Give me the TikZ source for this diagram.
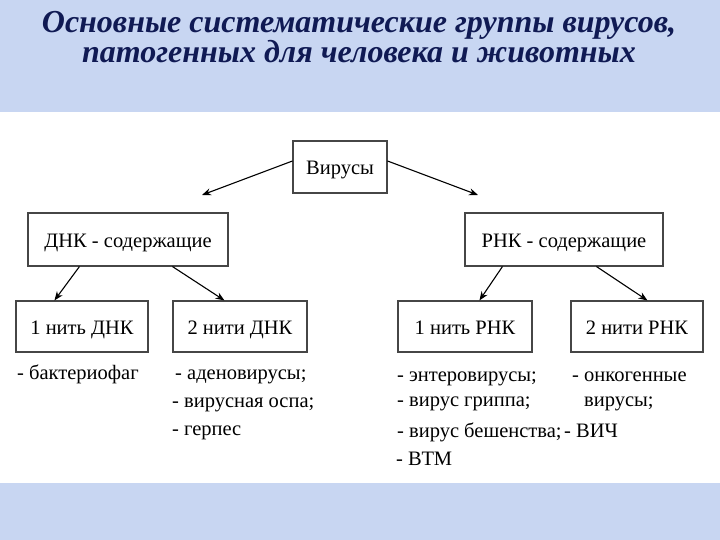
\documentclass[tikz,border=0pt]{standalone}
\usepackage{fontspec}
\setmainfont{Liberation Serif}
\usetikzlibrary{positioning, arrows.meta}
\usetikzlibrary{backgrounds}

\definecolor{bgblue}{RGB}{200,214,242}
\definecolor{titleblue}{RGB}{16,26,84}
\definecolor{boxgray}{RGB}{70,70,70}

\tikzset{
	groupbox/.style={draw=boxgray, line width=1.1pt, fill=white, font=\fontsize{20.5}{22}\selectfont, inner sep=0pt, text height=18pt, text depth=2pt},
	listitem/.style={anchor=base west, inner sep=0pt, font=\fontsize{20.5}{22}\selectfont},
	titleline/.style={anchor=base, inner sep=0pt, text=titleblue, font=\fontsize{32}{34}\selectfont\bfseries\itshape},
	arr/.style={-{Stealth[length=9pt,width=7pt]}, line width=1.1pt}
}

\begin{document}
\begin{tikzpicture}[x=1pt,y=-1pt]
				\fill[bgblue] (0,0) rectangle (720,540);
				\fill[white] (0,112) rectangle (720,483);
				\useasboundingbox (0,0) rectangle (720,540);
				\node [titleline] (T1) at (359,33) {Основные систематические группы вирусов,};
				\node [titleline] (T2) at (359,63) {патогенных для человека и животных};
				% boxes
				\node [groupbox, minimum width=94pt, minimum height=52pt] (vir) at (340,167) {Вирусы};
				\node [groupbox, minimum width=200pt, minimum height=53pt] (dna) at (128,239.5) {ДНК - содержащие};
				\node [groupbox, minimum width=198pt, minimum height=53pt] (rna) at (564,239.5) {РНК - содержащие};
				\node [groupbox, minimum width=132pt, minimum height=51pt] (dna1) at (82,326.5) {1 нить ДНК};
				\node [groupbox, minimum width=134pt, minimum height=51pt] (dna2) at (240,326.5) {2 нити ДНК};
				\node [groupbox, minimum width=134pt, minimum height=51pt] (rna1) at (465,326.5) {1 нить РНК};
				\node [groupbox, minimum width=132pt, minimum height=51pt] (rna2) at (637,326.5) {2 нити РНК};
				\coordinate (virL) at (202,195);
				\coordinate (virR) at (478,195);
				\draw [arr] ([yshift=6pt]vir.west) -- (virL);
				\draw [arr] ([yshift=6pt]vir.east) -- (virR);
				\draw [arr] ([xshift=52pt]dna.south west) -- ([xshift=39pt]dna1.north west);
				\draw [arr] ([xshift=145pt]dna.south west) -- ([xshift=52pt]dna2.north west);
				\draw [arr] ([xshift=38pt]rna.south west) -- ([xshift=82pt]rna1.north west);
				\draw [arr] ([xshift=132pt]rna.south west) -- ([xshift=77pt]rna2.north west);
				% lists
				\node [listitem] (d1a) at (17,379) {- бактериофаг};
				\node [listitem] (d2a) at (175,379) {- аденовирусы;};
				\node [listitem] (d2b) at (172,407) {- вирусная оспа;};
				\node [listitem] (d2c) at (172,435) {- герпес};
				\node [listitem] (r1a) at (397,381) {- энтеровирусы;};
				\node [listitem] (r1b) at (397,406) {- вирус гриппа;};
				\node [listitem] (r1c) at (397,437) {- вирус бешенства;};
				\node [listitem] (r1d) at (396,465) {- ВТМ};
				\node [listitem] (r2a) at (572,381) {- онкогенные};
				\node [listitem] (r2b) at (584,406) {вирусы;};
				\node [listitem] (r2c) at (564,437) {- ВИЧ};
			\end{tikzpicture}
\end{document}
